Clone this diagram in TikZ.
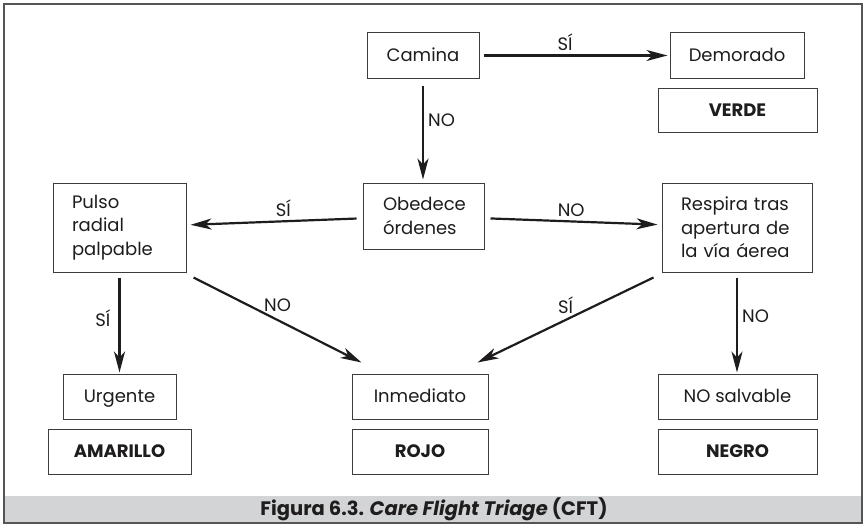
\documentclass[tikz,border=0pt]{standalone}
\usepackage{fontspec}
\setmainfont{Poppins}
\usepackage{xcolor}
\usetikzlibrary{arrows.meta,positioning}
\definecolor{FrameGray}{RGB}{85,85,85}
\definecolor{BoxLine}{RGB}{60,60,60}
\definecolor{BandGray}{RGB}{211,212,214}
\definecolor{InkBlack}{RGB}{30,28,28}
\tikzset{
  basebox/.style={draw=BoxLine, fill=white, line width=1pt, minimum height=45pt,
               inner sep=0pt, text=InkBlack, font=\fontsize{18}{23.5}\selectfont},
  tbox/.style={basebox, text height=13pt, text depth=1pt},
  cbox/.style={tbox, font=\fontsize{18}{23.5}\selectfont\bfseries},
  qbox/.style={basebox, align=left, inner xsep=19pt},
  arr/.style={-{Stealth[length=21pt,width=11pt,inset=6pt]}, InkBlack, line width=2.2pt},
  lbl/.style={font=\fontsize{18}{20}\selectfont, text=InkBlack, inner sep=2pt},
}

\begin{document}
\begin{tikzpicture}[x=1pt, y=-1pt]
  \useasboundingbox (0,0) rectangle (866,527);
  % Frame and caption band
  \fill[BandGray] (4,496) rectangle (862,523);
  \draw[FrameGray, line width=1.5pt] (4,4) rectangle (862,523);
  \node[font=\fontsize{19.5}{20}\selectfont\bfseries, text=InkBlack] (caption) at (434,509)
    {Figura 6.3. \textit{Care Flight Triage} (CFT)};

  % Questions
  \node[tbox, minimum width=112pt] (camina) at (423,55.5) {Camina};
  \node[qbox, minimum height=66pt, text width=81pt, inner xsep=20pt] (obedece) at (423.5,216)
    {Obedece\\ órdenes};
  \node[qbox, minimum height=89pt, text width=95pt] (pulso) at (119.5,227.5)
    {Pulso\\ radial\\ palpable};
  \node[qbox, minimum height=89pt, text width=112pt] (respira) at (737,227.5)
    {Respira~tras\\ apertura~de\\ la~vía~áerea};

  % Results
  \node[tbox, minimum width=134pt] (demorado) at (737,55.5) {Demorado};
  \node[cbox, minimum width=159pt, minimum height=44pt] (verde) at (737.5,110) {VERDE};
  \node[tbox, minimum width=113pt] (urgente) at (119.5,396.5) {Urgente};
  \node[cbox, minimum width=143pt] (amarillo) at (119.5,451.5) {AMARILLO};
  \node[tbox, minimum width=136pt] (inmediato) at (420,396.5) {Inmediato};
  \node[cbox, minimum width=136pt] (rojo) at (420,451.5) {ROJO};
  \node[tbox, minimum width=159pt] (nosalvable) at (737.5,396.5) {NO salvable};
  \node[cbox, minimum width=159pt] (negro) at (737.5,451.5) {NEGRO};

  % Arrows
  \draw[arr, shorten <=4pt, shorten >=2pt] (camina) -- (demorado)
    node[lbl, pos=0.45, above=2pt] {SÍ};
  \draw[arr, shorten <=7pt, shorten >=3pt] (camina.south) -- (camina.south |- obedece.north)
    node[lbl, pos=0.4, right=2pt] {NO};
  \draw[arr, shorten <=6pt, shorten >=4pt] (obedece) -- (pulso)
    node[lbl, pos=0.45, above=2pt] {SÍ};
  \draw[arr, shorten <=6pt, shorten >=4pt] (obedece) -- (respira)
    node[lbl, pos=0.49, above=2pt] {NO};
  \draw[arr, shorten <=5pt, shorten >=1pt] (pulso) -- (urgente)
    node[lbl, pos=0.45, left=6pt] {SÍ};
  \draw[arr] ([xshift=7pt,yshift=-5pt]pulso.south east) -- ([xshift=10pt,yshift=11pt]inmediato.north west)
    node[lbl, pos=0.5, above=5pt] {NO};
  \draw[arr] ([xshift=-8pt,yshift=-5pt]respira.south west) -- ([xshift=-11pt,yshift=11pt]inmediato.north east)
    node[lbl, pos=0.5, above=3pt] {SÍ};
  \draw[arr, shorten <=5pt, shorten >=1pt] (respira.south) -- (respira.south |- nosalvable.north)
    node[lbl, pos=0.43, right=2pt] {NO};
\end{tikzpicture}
\end{document}
